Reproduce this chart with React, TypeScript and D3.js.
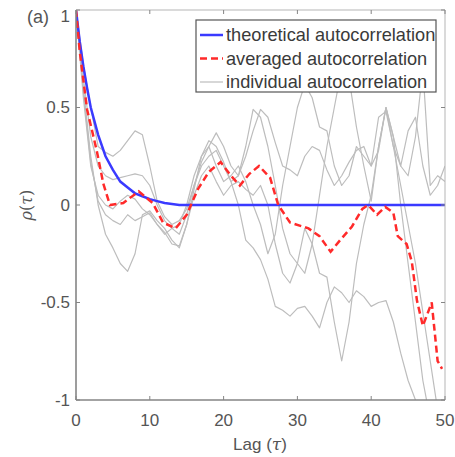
import React from "react";
import * as d3 from "d3";

// lags for the individual series (integer steps)
const lags = d3.range(0, 51);

// individual autocorrelation curves
const indiv1 = [1, 0.72, 0.5, 0.3, 0.27, 0.25, 0.28, 0.33, 0.38, 0.36, 0.2, 0.02, -0.06, -0.1, -0.08, -0.02, 0.1, 0.2, 0.25, 0.28, 0.2, 0.12, 0.15, 0.25, 0.38, 0.49, 0.45, 0.32, 0.2, 0.18, 0.15, 0.25, 0.3, 0.28, 0.18, 0.1, 0.15, 0.22, 0.28, 0.3, 0.2, 0.28, 0.5, 0.35, 0.2, 0.38, 0.45, 0.2, 0.05, 0.1, 0.2];
const indiv2 = [1, 0.6, 0.25, 0.0, -0.15, -0.22, -0.3, -0.34, -0.25, -0.05, -0.03, -0.08, -0.12, -0.18, -0.22, -0.1, 0.08, 0.25, 0.33, 0.3, 0.22, 0.12, 0.0, -0.18, -0.22, -0.28, -0.38, -0.52, -0.54, -0.57, -0.53, -0.52, -0.57, -0.63, -0.5, -0.42, -0.45, -0.5, -0.44, -0.47, -0.52, -0.5, -0.49, -0.6, -0.76, -0.9, -1.0, -1.15, -1.3, -1.3, -1.3];
const indiv3 = [1, 0.65, 0.35, 0.2, 0.15, 0.13, 0.14, 0.15, 0.16, 0.15, 0.1, 0.0, -0.08, -0.12, -0.15, -0.05, 0.1, 0.22, 0.3, 0.37, 0.3, 0.2, 0.15, 0.3, 0.49, 0.45, 0.3, 0.1, -0.12, -0.25, -0.3, -0.35, -0.2, 0.05, 0.3, 0.5, 0.7, 0.65, 0.4, 0.2, 0.02, 0.3, 0.5, 0.3, 0.1, -0.1, -0.3, -0.55, -0.8, -1.05, -1.2];
const indiv4 = [1, 0.58, 0.22, 0.02, -0.05, -0.08, -0.1, -0.05, -0.08, -0.06, -0.04, -0.1, -0.14, -0.2, -0.21, -0.1, 0.05, 0.15, 0.2, 0.12, 0.05, 0.1, 0.12, 0.08, 0.05, 0.1, 0.0, -0.2, -0.35, -0.4, -0.3, -0.12, -0.2, -0.35, -0.37, -0.6, -0.8, -0.6, -0.3, -0.1, 0.05, 0.3, 0.5, 0.35, 0.0, -0.3, -0.6, -0.9, -1.1, -1.2, -1.2];
const indiv5 = [1, 0.55, 0.2, 0.05, 0.0, -0.02, 0.02, 0.05, 0.03, -0.02, -0.05, -0.1, -0.15, -0.12, -0.1, 0.0, 0.15, 0.25, 0.3, 0.2, 0.12, 0.15, 0.2, 0.12, 0.0, -0.1, -0.25, -0.15, 0.1, 0.3, 0.5, 0.62, 0.55, 0.4, 0.38, 0.2, 0.1, 0.15, 0.3, 0.25, 0.2, 0.45, 0.48, 0.3, 0.2, 0.15, 0.35, 0.7, 0.1, 0.15, 0.12];
const individual = [indiv1, indiv2, indiv3, indiv4, indiv5];

// averaged autocorrelation (red dashed)
const avgLags = [0, 0.5, 1.5, 2.8, 3.7, 4.6, 6.4, 8.5, 10.4, 11.8, 13.5, 15, 16.5, 18, 19.6, 21, 22.2, 23.5, 24.8, 26.3, 27.4, 29, 31.5, 33, 34.5, 35.8, 37.4, 38.8, 39.6, 40.8, 41.9, 43, 43.6, 44.8, 45.5, 46.2, 47, 48.2, 49, 49.6];
const avgVals = [1, 0.79, 0.49, 0.28, 0.11, 0.0, 0.01, 0.07, 0.01, -0.09, -0.12, -0.05, 0.08, 0.17, 0.22, 0.15, 0.1, 0.16, 0.2, 0.14, 0.0, -0.09, -0.12, -0.16, -0.24, -0.18, -0.11, -0.02, 0.0, -0.05, -0.01, -0.04, -0.16, -0.2, -0.29, -0.49, -0.62, -0.5, -0.8, -0.84];

// theoretical autocorrelation (blue)
const theoLags = [0, 0.5, 1, 1.5, 2, 3, 4, 5, 6, 7, 8, 9, 10, 11, 12, 14, 50];
const theoVals = [1, 0.84, 0.71, 0.6, 0.5, 0.36, 0.25, 0.18, 0.12, 0.09, 0.06, 0.045, 0.03, 0.02, 0.01, 0.0, 0.0];

const xTicks = [0, 10, 20, 30, 40, 50];
const yTicks = [1, 0.5, 0, -0.5, -1];

const legendLabels = ["theoretical autocorrelation", "averaged autocorrelation", "individual autocorrelation"];

export default function App() {
  const W = 455;
  const H = 457;
  const left = 76, right = 445, top = 10, bottom = 400;

  const x = d3.scaleLinear().domain([0, 50]).range([left, right]);
  const y = d3.scaleLinear().domain([-1, 1]).range([bottom, top]);

  const line = d3.line<[number, number]>()
    .x(d => x(d[0]))
    .y(d => y(d[1]));

  const font = "'Liberation Sans', Arial, sans-serif";
  const tickColor = "#555";

  const legendRows = [
    { stroke: "#3a3aff", width: 2.5, dash: undefined as string | undefined },
    { stroke: "#ff2a2a", width: 2.5, dash: "7,4" },
    { stroke: "#bdbdbd", width: 1.2, dash: undefined },
  ];

  return (
    <svg width={W} height={H} style={{ position: "absolute", left: 0, top: 0, background: "#fff" }} fontFamily={font}>
      <defs>
        <clipPath id="plotClip">
          <rect x={left} y={top} width={right - left} height={bottom - top} />
        </clipPath>
      </defs>

      {/* data */}
      <g clipPath="url(#plotClip)">
        {individual.map((vals, i) => (
          <path key={i}
            d={line(lags.map((l, j) => [l, vals[j]] as [number, number])) || ""}
            fill="none" stroke="#bdbdbd" strokeWidth={1.2} strokeLinejoin="round" />
        ))}
        <path d={line(theoLags.map((l, j) => [l, theoVals[j]] as [number, number])) || ""}
          fill="none" stroke="#3a3aff" strokeWidth={2.5} />
        <path d={line(avgLags.map((l, j) => [l, avgVals[j]] as [number, number])) || ""}
          fill="none" stroke="#ff2a2a" strokeWidth={2.5} strokeDasharray="7,4" />
      </g>

      {/* box */}
      <line x1={left} x2={right} y1={top} y2={top} stroke="#b5b5b5" strokeWidth={1} />
      <line x1={right} x2={right} y1={top} y2={bottom} stroke="#b5b5b5" strokeWidth={1} />
      <line x1={left} x2={right} y1={bottom} y2={bottom} stroke="#858585" strokeWidth={1.6} />
      <line x1={left} x2={left} y1={top} y2={bottom} stroke="#858585" strokeWidth={1.6} />

      {/* x ticks */}
      {xTicks.map(t => (
        <g key={"x" + t}>
          <line x1={x(t)} x2={x(t)} y1={bottom} y2={bottom - 4} stroke="#858585" />
          <line x1={x(t)} x2={x(t)} y1={top} y2={top + 4} stroke="#858585" />
          <text x={x(t)} y={bottom + 26} textAnchor="middle" fontSize={17} fill={tickColor}>{t}</text>
        </g>
      ))}

      {/* y ticks */}
      {yTicks.map(t => (
        <g key={"y" + t}>
          <line x1={left} x2={left + 4} y1={y(t)} y2={y(t)} stroke="#858585" />
          <line x1={right} x2={right - 4} y1={y(t)} y2={y(t)} stroke="#858585" />
          <text x={left - 6} y={y(t) + (t === 1 ? 6 : 0)} dy="0.35em" textAnchor="end" fontSize={17} fill={tickColor}>{t}</text>
        </g>
      ))}

      <text x={27} y={23} fontSize={18} fill={tickColor}>(a)</text>

      {/* axis labels */}
      <text x={260} y={450} textAnchor="middle" fontSize={17} fill={tickColor}>
        Lag (<tspan fontStyle="italic" fontFamily="'DejaVu Serif', serif">τ</tspan>)
      </text>
      <text transform={`translate(32,${y(0)}) rotate(-90)`} textAnchor="middle" fontSize={16} fill={tickColor} fontFamily="'DejaVu Serif', serif" fontStyle="italic">
        ρ<tspan fontStyle="normal">(</tspan>τ<tspan fontStyle="normal">)</tspan>
      </text>

      {/* legend */}
      <rect x={196} y={20} width={240} height={72} fill="#fff" stroke="#555" strokeWidth={1.2} />
      {legendLabels.map((lab, i) => {
        const ry = 35 + i * 23.5;
        const r = legendRows[i];
        return (
          <g key={lab}>
            <line x1={200} x2={223} y1={ry} y2={ry} stroke={r.stroke} strokeWidth={r.width} strokeDasharray={r.dash} />
            <text x={226} y={ry} dy="0.35em" fontSize={18.2} fill="#3a3a3a">{lab}</text>
          </g>
        );
      })}
    </svg>
  );
}
